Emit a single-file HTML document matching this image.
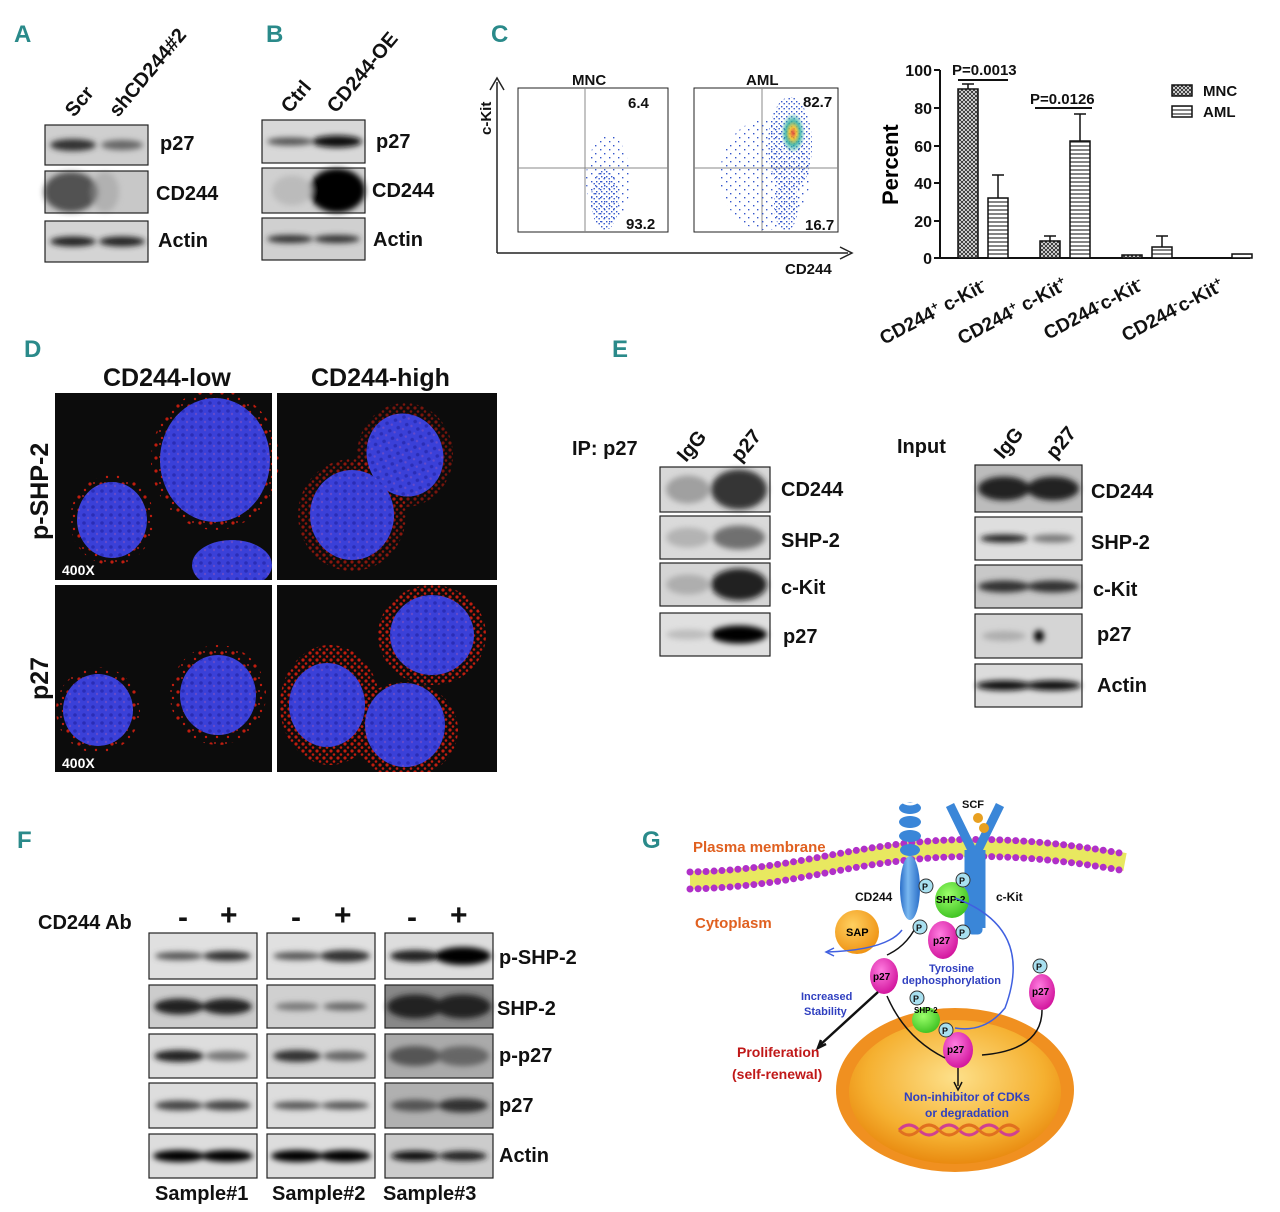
<!DOCTYPE html>
<html><head><meta charset="utf-8"><style>
body{margin:0;background:#fff}
svg{display:block}
text{font-family:"Liberation Sans",sans-serif;font-weight:bold}
.bo{fill:none;stroke:#222;stroke-width:1.2}
</style></head><body>
<svg width="1280" height="1212" viewBox="0 0 1280 1212" xmlns="http://www.w3.org/2000/svg">
<defs>
<filter id="b3" x="-50%" y="-50%" width="200%" height="200%"><feGaussianBlur stdDeviation="3"/></filter>
<clipPath id="ctop"><rect x="55" y="393" width="217" height="187"/><rect x="277" y="393" width="220" height="187"/></clipPath>
<clipPath id="cbot"><rect x="55" y="585" width="217" height="187"/><rect x="277" y="585" width="220" height="187"/></clipPath>
<radialGradient id="nuc" cx="50%" cy="40%" r="60%"><stop offset="0" stop-color="#fde08a"/><stop offset="0.7" stop-color="#f5b030"/><stop offset="1" stop-color="#e98a10"/></radialGradient>
<radialGradient id="mag" cx="40%" cy="35%" r="70%"><stop offset="0" stop-color="#ff7de0"/><stop offset="1" stop-color="#d0109a"/></radialGradient>
<radialGradient id="grn" cx="40%" cy="35%" r="70%"><stop offset="0" stop-color="#9bff6a"/><stop offset="1" stop-color="#3cc020"/></radialGradient>
<radialGradient id="sap" cx="40%" cy="35%" r="70%"><stop offset="0" stop-color="#ffd060"/><stop offset="1" stop-color="#ee9010"/></radialGradient>
<linearGradient id="blu" x1="0" x2="1"><stop offset="0" stop-color="#2a6ec8"/><stop offset="0.4" stop-color="#7ab8f0"/><stop offset="1" stop-color="#2a6ec8"/></linearGradient>
<radialGradient id="hot" cx="50%" cy="50%" r="50%"><stop offset="0" stop-color="#e03020"/><stop offset="0.3" stop-color="#f0c020"/><stop offset="0.6" stop-color="#30b0a0"/><stop offset="1" stop-color="#30b0a0" stop-opacity="0"/></radialGradient>
<pattern id="hatch" width="4" height="4" patternUnits="userSpaceOnUse"><rect width="4" height="4" fill="#fff"/><path d="M0 4L4 0M0 0L4 4" stroke="#333" stroke-width="1"/></pattern>
<pattern id="hz" width="4" height="4" patternUnits="userSpaceOnUse"><rect width="4" height="4" fill="#fff"/><path d="M0 2H4" stroke="#333" stroke-width="1.2"/></pattern>
<pattern id="fd" width="5" height="5" patternUnits="userSpaceOnUse"><rect x="1" y="1" width="1.4" height="1.4" fill="#3355cc"/><rect x="3.5" y="3" width="1.4" height="1.4" fill="#3355cc"/></pattern>
<pattern id="fds" width="9" height="8" patternUnits="userSpaceOnUse"><rect x="1" y="1" width="1.4" height="1.4" fill="#3355cc"/><rect x="6" y="5" width="1.4" height="1.4" fill="#3355cc"/></pattern>
<pattern id="rd" width="11" height="13" patternUnits="userSpaceOnUse"><circle cx="2" cy="3" r="1.6" fill="#e02010"/><circle cx="8" cy="9" r="1.2" fill="#e02010"/><circle cx="6" cy="2" r="0.9" fill="#ff3020"/></pattern>
<pattern id="rdd" width="7" height="7" patternUnits="userSpaceOnUse"><circle cx="2" cy="2" r="1.6" fill="#e02010"/><circle cx="5" cy="5.5" r="1.3" fill="#e02010"/></pattern>
<pattern id="nt" width="9" height="8" patternUnits="userSpaceOnUse"><rect width="9" height="8" fill="#3a40d8"/><circle cx="3" cy="3" r="1.8" fill="#2020a0" fill-opacity="0.6"/><circle cx="7" cy="6" r="1.2" fill="#8050c0" fill-opacity="0.6"/></pattern>
</defs>
<g fill="#2a8a8a" font-size="24">
<text x="14" y="42">A</text><text x="266" y="42">B</text><text x="491" y="42">C</text>
<text x="24" y="357">D</text><text x="612" y="357">E</text><text x="17" y="848">F</text><text x="642" y="848">G</text>
</g>
<!-- A blots -->
<rect x="45" y="125" width="103" height="40" fill="#cfcfcf"/>
<rect x="45" y="171" width="103" height="42" fill="#c8c8c8"/>
<rect x="45" y="221" width="103" height="41" fill="#d4d4d4"/>
<g filter="url(#b3)">
<ellipse cx="73" cy="145" rx="23" ry="6" fill="#333"/><ellipse cx="122" cy="145" rx="21" ry="5" fill="#666"/>
<ellipse cx="71" cy="192" rx="27" ry="20" fill="#333" fill-opacity="0.8"/><ellipse cx="105" cy="192" rx="14" ry="20" fill="#999" fill-opacity="0.5"/>
<ellipse cx="73" cy="241.5" rx="23" ry="5" fill="#222"/><ellipse cx="122" cy="241.5" rx="23" ry="5" fill="#222"/>
</g>
<rect class="bo" x="45" y="125" width="103" height="40"/><rect class="bo" x="45" y="171" width="103" height="42"/><rect class="bo" x="45" y="221" width="103" height="41"/>
<!-- B blots -->
<rect x="262" y="120" width="103" height="43" fill="#d8d8d8"/>
<rect x="262" y="168" width="103" height="45" fill="#d0d0d0"/>
<rect x="262" y="218" width="103" height="42" fill="#d0d0d0"/>
<g filter="url(#b3)">
<ellipse cx="290" cy="141.5" rx="23" ry="4" fill="#555"/><ellipse cx="337" cy="141.5" rx="25" ry="6" fill="#111"/>
<ellipse cx="337" cy="190.5" rx="28" ry="22" fill="#000"/><ellipse cx="292" cy="190.5" rx="20" ry="15" fill="#bbb"/>
<ellipse cx="290" cy="239" rx="23" ry="4" fill="#333"/><ellipse cx="337" cy="239" rx="23" ry="4" fill="#333"/>
</g>
<rect class="bo" x="262" y="120" width="103" height="43"/><rect class="bo" x="262" y="168" width="103" height="45"/><rect class="bo" x="262" y="218" width="103" height="42"/>
<g font-size="20" fill="#111">
<text transform="translate(74,118) rotate(-50)">Scr</text>
<text transform="translate(118,118) rotate(-50)">shCD244#2</text>
<text x="160" y="150">p27</text><text x="156" y="200">CD244</text><text x="158" y="247">Actin</text>
<text transform="translate(290,114) rotate(-50)">Ctrl</text>
<text transform="translate(336,114) rotate(-50)">CD244-OE</text>
<text x="376" y="148">p27</text><text x="372" y="197">CD244</text><text x="373" y="246">Actin</text>
</g>
<!-- C flow -->
<g stroke="#222" stroke-width="1.5" fill="none">
<path d="M497 253V82M490 90L497 78L504 90"/><path d="M497 253H848M840 247L852 253L840 259"/>
<rect x="518" y="88" width="150" height="144" stroke-width="1"/>
<rect x="694" y="88" width="144" height="144" stroke-width="1"/>
<path d="M585 88V232M518 168H668M762 88V232M694 168H838" stroke="#888" stroke-width="1"/>
</g>
<ellipse cx="605" cy="200" rx="14" ry="30" fill="url(#fd)"/>
<ellipse cx="608" cy="180" rx="22" ry="45" fill="url(#fds)"/>
<ellipse cx="790" cy="145" rx="22" ry="48" fill="url(#fd)"/>
<ellipse cx="786" cy="205" rx="12" ry="26" fill="url(#fd)"/>
<ellipse cx="765" cy="175" rx="45" ry="55" fill="url(#fds)"/>
<ellipse cx="793" cy="133" rx="12" ry="20" fill="url(#hot)" opacity="0.85"/>
<g font-size="15" fill="#111">
<text x="572" y="85">MNC</text><text x="746" y="85">AML</text>
<text x="628" y="108">6.4</text><text x="626" y="229">93.2</text>
<text x="803" y="107">82.7</text><text x="805" y="230">16.7</text>
<text x="785" y="274">CD244</text>
<text transform="translate(491,135) rotate(-90)">c-Kit</text>
</g>
<!-- bar chart -->
<g stroke="#111" stroke-width="2" fill="none">
<path d="M940 70V258H1250"/>
<path d="M934 70H940M934 108H940M934 146H940M934 183H940M934 221H940M934 258H940"/>
</g>
<g font-size="16" fill="#111" text-anchor="end">
<text x="932" y="76">100</text><text x="932" y="114">80</text><text x="932" y="152">60</text><text x="932" y="189">40</text><text x="932" y="227">20</text><text x="932" y="264">0</text>
</g>
<text transform="translate(898,205) rotate(-90)" font-size="22">Percent</text>
<g stroke="#111" stroke-width="1.5">
<rect x="958" y="89" width="20" height="169" fill="url(#hatch)"/>
<rect x="988" y="198" width="20" height="60" fill="url(#hz)"/>
<rect x="1040" y="241" width="20" height="17" fill="url(#hatch)"/>
<rect x="1070" y="141" width="20" height="117" fill="url(#hz)"/>
<rect x="1122" y="255" width="20" height="3" fill="url(#hatch)"/>
<rect x="1152" y="247" width="20" height="11" fill="url(#hz)"/>
<rect x="1232" y="254" width="20" height="4" fill="url(#hz)"/>
<path d="M968 89V84M962 84H974M998 198V175M992 175H1004M1050 241V236M1044 236H1056M1080 141V114M1074 114H1086M1162 247V236M1156 236H1168" fill="none"/>
<path d="M958 80H1008M1035 108H1092" stroke-width="2"/>
<rect x="1172" y="85" width="20" height="11" fill="url(#hatch)"/>
<rect x="1172" y="106" width="20" height="11" fill="url(#hz)"/>
</g>
<g font-size="15" fill="#111"><text x="952" y="75">P=0.0013</text><text x="1030" y="104">P=0.0126</text><text x="1203" y="96">MNC</text><text x="1203" y="117">AML</text></g>
<g font-size="19" fill="#111">
<text transform="translate(884,345) rotate(-28)">CD244<tspan dy="-7" font-size="12">+</tspan><tspan dy="7"> c-Kit</tspan><tspan dy="-7" font-size="12">-</tspan></text>
<text transform="translate(962,345) rotate(-28)">CD244<tspan dy="-7" font-size="12">+</tspan><tspan dy="7"> c-Kit</tspan><tspan dy="-7" font-size="12">+</tspan></text>
<text transform="translate(1048,340) rotate(-28)">CD244<tspan dy="-7" font-size="12">-</tspan><tspan dy="7">c-Kit</tspan><tspan dy="-7" font-size="12">-</tspan></text>
<text transform="translate(1126,342) rotate(-28)">CD244<tspan dy="-7" font-size="12">-</tspan><tspan dy="7">c-Kit</tspan><tspan dy="-7" font-size="12">+</tspan></text>
</g>
<!-- D -->
<g font-size="25" fill="#111"><text x="103" y="386">CD244-low</text><text x="311" y="386">CD244-high</text>
<text transform="translate(48,540) rotate(-90)">p-SHP-2</text><text transform="translate(48,700) rotate(-90)">p27</text></g>
<rect x="55" y="393" width="217" height="187" fill="#0c0c0c"/><rect x="277" y="393" width="220" height="187" fill="#0c0c0c"/>
<rect x="55" y="585" width="217" height="187" fill="#0c0c0c"/><rect x="277" y="585" width="220" height="187" fill="#0c0c0c"/>
<g clip-path="url(#ctop)">
<g opacity="0.85">
<ellipse cx="112" cy="520" rx="42" ry="45" fill="url(#rd)"/>
<ellipse cx="215" cy="460" rx="64" ry="70" fill="url(#rd)"/>
<ellipse cx="405" cy="455" rx="48" ry="52" fill="url(#rdd)" opacity="0.6"/>
<ellipse cx="352" cy="515" rx="54" ry="56" fill="url(#rdd)" opacity="0.7"/>
</g>
<g fill="url(#nt)">
<ellipse cx="112" cy="520" rx="35" ry="38"/>
<ellipse cx="215" cy="460" rx="55" ry="62"/>
<ellipse cx="232" cy="565" rx="40" ry="25"/>
<ellipse cx="405" cy="455" rx="38" ry="42" transform="rotate(-20 405 455)"/>
<ellipse cx="352" cy="515" rx="42" ry="45"/>
</g>
</g>
<g clip-path="url(#cbot)">
<g opacity="0.85">
<ellipse cx="98" cy="710" rx="42" ry="43" fill="url(#rd)"/>
<ellipse cx="218" cy="695" rx="48" ry="50" fill="url(#rd)"/>
<ellipse cx="432" cy="635" rx="54" ry="50" fill="url(#rdd)"/>
<ellipse cx="330" cy="705" rx="50" ry="60" fill="url(#rdd)"/>
<ellipse cx="405" cy="730" rx="53" ry="48" fill="url(#rdd)"/>
</g>
<g fill="url(#nt)">
<ellipse cx="98" cy="710" rx="35" ry="36"/>
<ellipse cx="218" cy="695" rx="38" ry="40"/>
<ellipse cx="432" cy="635" rx="42" ry="40"/>
<ellipse cx="327" cy="705" rx="38" ry="42"/>
<ellipse cx="405" cy="725" rx="40" ry="42"/>
</g>
</g>
<g font-size="14" fill="#fff"><text x="62" y="575">400X</text><text x="62" y="768">400X</text></g>
<!-- E blots -->
<g>
<rect x="660" y="467" width="110" height="45" fill="#d8d8d8"/><rect x="660" y="516" width="110" height="43" fill="#dadada"/>
<rect x="660" y="563" width="110" height="43" fill="#d5d5d5"/><rect x="660" y="613" width="110" height="43" fill="#e0e0e0"/>
<rect x="975" y="465" width="107" height="47" fill="#bcbcbc"/><rect x="975" y="517" width="107" height="43" fill="#dedede"/>
<rect x="975" y="565" width="107" height="43" fill="#c8c8c8"/><rect x="975" y="614" width="107" height="44" fill="#d5d5d5"/>
<rect x="975" y="664" width="107" height="43" fill="#dcdcdc"/>
<g filter="url(#b3)">
<ellipse cx="688" cy="489.5" rx="22" ry="14" fill="#888" fill-opacity="0.7"/><ellipse cx="739" cy="489.5" rx="28" ry="20" fill="#222" fill-opacity="0.9"/>
<ellipse cx="688" cy="537.5" rx="22" ry="10" fill="#999" fill-opacity="0.6"/><ellipse cx="739" cy="537.5" rx="26" ry="12" fill="#555" fill-opacity="0.8"/>
<ellipse cx="688" cy="584.5" rx="22" ry="10" fill="#888" fill-opacity="0.5"/><ellipse cx="739" cy="584.5" rx="28" ry="16" fill="#111" fill-opacity="0.9"/>
<ellipse cx="688" cy="634.5" rx="22" ry="5" fill="#999" fill-opacity="0.5"/><ellipse cx="739" cy="634.5" rx="28" ry="9" fill="#000"/>
<ellipse cx="1004" cy="488.5" rx="26" ry="12" fill="#222"/><ellipse cx="1053" cy="488.5" rx="26" ry="12" fill="#222"/>
<ellipse cx="1004" cy="538.5" rx="24" ry="4" fill="#222"/><ellipse cx="1053" cy="538.5" rx="21" ry="4" fill="#777"/>
<ellipse cx="1004" cy="586.5" rx="26" ry="6" fill="#333"/><ellipse cx="1053" cy="586.5" rx="26" ry="6" fill="#333"/>
<ellipse cx="1004" cy="636" rx="22" ry="5" fill="#888" fill-opacity="0.5"/><ellipse cx="1039" cy="636" rx="5" ry="6" fill="#000"/>
<ellipse cx="1004" cy="685.5" rx="28" ry="5" fill="#111"/><ellipse cx="1053" cy="685.5" rx="28" ry="5" fill="#111"/>
</g>
<rect class="bo" x="660" y="467" width="110" height="45"/><rect class="bo" x="660" y="516" width="110" height="43"/>
<rect class="bo" x="660" y="563" width="110" height="43"/><rect class="bo" x="660" y="613" width="110" height="43"/>
<rect class="bo" x="975" y="465" width="107" height="47"/><rect class="bo" x="975" y="517" width="107" height="43"/>
<rect class="bo" x="975" y="565" width="107" height="43"/><rect class="bo" x="975" y="614" width="107" height="44"/>
<rect class="bo" x="975" y="664" width="107" height="43"/>
</g>
<g font-size="20" fill="#111">
<text x="572" y="455">IP: p27</text>
<text transform="translate(686,463) rotate(-50)">IgG</text><text transform="translate(740,463) rotate(-50)">p27</text>
<text x="781" y="496">CD244</text><text x="781" y="547">SHP-2</text><text x="781" y="594">c-Kit</text><text x="783" y="643">p27</text>
<text x="897" y="453">Input</text>
<text transform="translate(1003,460) rotate(-50)">IgG</text><text transform="translate(1055,460) rotate(-50)">p27</text>
<text x="1091" y="498">CD244</text><text x="1091" y="549">SHP-2</text><text x="1093" y="596">c-Kit</text><text x="1097" y="641">p27</text><text x="1097" y="692">Actin</text>
</g>
<!-- F blots -->
<g>
<rect x="149" y="933" width="108" height="46" fill="#e0e0e0"/><rect x="149" y="985" width="108" height="43" fill="#ccc"/>
<rect x="149" y="1034" width="108" height="44" fill="#ddd"/><rect x="149" y="1083" width="108" height="45" fill="#ddd"/>
<rect x="149" y="1134" width="108" height="44" fill="#ddd"/>
<rect x="267" y="933" width="108" height="46" fill="#e0e0e0"/><rect x="267" y="985" width="108" height="43" fill="#d0d0d0"/>
<rect x="267" y="1034" width="108" height="44" fill="#d5d5d5"/><rect x="267" y="1083" width="108" height="45" fill="#ddd"/>
<rect x="267" y="1134" width="108" height="44" fill="#ddd"/>
<rect x="385" y="933" width="108" height="46" fill="#ddd"/><rect x="385" y="985" width="108" height="43" fill="#888"/>
<rect x="385" y="1034" width="108" height="44" fill="#aaa"/><rect x="385" y="1083" width="108" height="45" fill="#b0b0b0"/>
<rect x="385" y="1134" width="108" height="44" fill="#ccc"/>
<g filter="url(#b3)">
<ellipse cx="179" cy="956" rx="24" ry="4" fill="#555"/><ellipse cx="227" cy="956" rx="24" ry="5" fill="#333"/>
<ellipse cx="179" cy="1006.5" rx="25" ry="8" fill="#222"/><ellipse cx="227" cy="1006.5" rx="25" ry="8" fill="#222"/>
<ellipse cx="179" cy="1056" rx="25" ry="6" fill="#222"/><ellipse cx="227" cy="1056" rx="22" ry="5" fill="#777"/>
<ellipse cx="179" cy="1105.5" rx="24" ry="5" fill="#444"/><ellipse cx="227" cy="1105.5" rx="24" ry="5" fill="#444"/>
<ellipse cx="179" cy="1156" rx="26" ry="6" fill="#000"/><ellipse cx="227" cy="1156" rx="26" ry="6" fill="#000"/>
<ellipse cx="297" cy="956" rx="24" ry="4" fill="#555"/><ellipse cx="345" cy="956" rx="25" ry="6" fill="#333"/>
<ellipse cx="297" cy="1006.5" rx="22" ry="4" fill="#777"/><ellipse cx="345" cy="1006.5" rx="22" ry="4" fill="#666"/>
<ellipse cx="297" cy="1056" rx="24" ry="6" fill="#333"/><ellipse cx="345" cy="1056" rx="22" ry="5" fill="#666"/>
<ellipse cx="297" cy="1105.5" rx="24" ry="4" fill="#555"/><ellipse cx="345" cy="1105.5" rx="24" ry="4" fill="#555"/>
<ellipse cx="297" cy="1156" rx="26" ry="6" fill="#000"/><ellipse cx="345" cy="1156" rx="26" ry="6" fill="#000"/>
<ellipse cx="415" cy="956" rx="25" ry="6" fill="#222"/><ellipse cx="463" cy="956" rx="28" ry="9" fill="#000"/>
<ellipse cx="415" cy="1006.5" rx="28" ry="12" fill="#222"/><ellipse cx="463" cy="1006.5" rx="28" ry="12" fill="#222"/>
<ellipse cx="415" cy="1056" rx="26" ry="10" fill="#555"/><ellipse cx="463" cy="1056" rx="26" ry="10" fill="#666"/>
<ellipse cx="415" cy="1105.5" rx="24" ry="6" fill="#555"/><ellipse cx="463" cy="1105.5" rx="25" ry="7" fill="#333"/>
<ellipse cx="415" cy="1156" rx="24" ry="5" fill="#111"/><ellipse cx="463" cy="1156" rx="24" ry="5" fill="#222"/>
</g>
<rect class="bo" x="149" y="933" width="108" height="46"/><rect class="bo" x="149" y="985" width="108" height="43"/><rect class="bo" x="149" y="1034" width="108" height="44"/><rect class="bo" x="149" y="1083" width="108" height="45"/><rect class="bo" x="149" y="1134" width="108" height="44"/>
<rect class="bo" x="267" y="933" width="108" height="46"/><rect class="bo" x="267" y="985" width="108" height="43"/><rect class="bo" x="267" y="1034" width="108" height="44"/><rect class="bo" x="267" y="1083" width="108" height="45"/><rect class="bo" x="267" y="1134" width="108" height="44"/>
<rect class="bo" x="385" y="933" width="108" height="46"/><rect class="bo" x="385" y="985" width="108" height="43"/><rect class="bo" x="385" y="1034" width="108" height="44"/><rect class="bo" x="385" y="1083" width="108" height="45"/><rect class="bo" x="385" y="1134" width="108" height="44"/>
</g>
<g font-size="20" fill="#111">
<text x="38" y="929">CD244 Ab</text>
<g font-size="30"><text x="178" y="927">-</text><text x="220" y="925">+</text><text x="291" y="927">-</text><text x="334" y="925">+</text><text x="407" y="927">-</text><text x="450" y="925">+</text></g>
<text x="499" y="964">p-SHP-2</text><text x="497" y="1015">SHP-2</text><text x="499" y="1062">p-p27</text><text x="499" y="1112">p27</text><text x="499" y="1162">Actin</text>
<text x="155" y="1200">Sample#1</text><text x="272" y="1200">Sample#2</text><text x="383" y="1200">Sample#3</text>
</g>
<!-- G -->
<g>
<path d="M690 880C780 878 830 860 900 852C980 842 1060 850 1125 862" stroke="#e8e860" stroke-width="18" fill="none"/>
<path d="M690 872C780 870 830 852 900 844C980 834 1060 842 1125 854" stroke="#b030c8" stroke-width="7" stroke-linecap="round" stroke-dasharray="0 8" fill="none"/>
<path d="M690 889C780 887 830 869 900 861C980 851 1060 859 1125 871" stroke="#b030c8" stroke-width="7" stroke-linecap="round" stroke-dasharray="0 8" fill="none"/>
<text x="693" y="852" font-size="15" fill="#e06020">Plasma membrane</text>
<text x="695" y="928" font-size="15" fill="#e06020">Cytoplasm</text>
<ellipse cx="955" cy="1090" rx="119" ry="82" fill="#f09020"/>
<ellipse cx="955" cy="1092" rx="106" ry="72" fill="url(#nuc)"/>
<path d="M899 1130q10-10 20 0t20 0t20 0t20 0t20 0t20 0" stroke="#d04090" stroke-width="3" fill="none"/>
<path d="M899 1130q10 10 20 0t20 0t20 0t20 0t20 0t20 0" stroke="#e07020" stroke-width="3" fill="none"/>
<ellipse cx="910" cy="808" rx="11" ry="6" fill="#3a86d8"/><ellipse cx="910" cy="822" rx="11" ry="6" fill="#3a86d8"/><ellipse cx="910" cy="836" rx="11" ry="6" fill="#3a86d8"/><ellipse cx="910" cy="850" rx="10" ry="6" fill="#3a86d8"/>
<ellipse cx="910" cy="888" rx="10" ry="32" fill="url(#blu)"/>
<path d="M900 800q10 8 20 0" stroke="#fff" stroke-width="3" fill="none"/>
<path d="M950 805L972 850V930H978V850L1000 805" stroke="#3a86d8" stroke-width="9" fill="none" stroke-linejoin="round"/>
<path d="M968 850V928M982 850V928" stroke="#3a86d8" stroke-width="7"/>
<circle cx="978" cy="818" r="5" fill="#e8a020"/><circle cx="984" cy="828" r="5" fill="#e8a020"/>
<text x="962" y="808" font-size="11" fill="#111">SCF</text>
<text x="855" y="901" font-size="12" fill="#111">CD244</text><text x="996" y="901" font-size="12" fill="#111">c-Kit</text>
<ellipse cx="952" cy="900" rx="17" ry="18" fill="url(#grn)"/><text x="936" y="903" font-size="10">SHP-2</text>
<ellipse cx="943" cy="940" rx="15" ry="19" fill="url(#mag)"/><text x="933" y="944" font-size="10">p27</text>
<circle cx="857" cy="932" r="22" fill="url(#sap)"/><text x="846" y="936" font-size="11">SAP</text>
<path d="M902 930q-15 20-75 22M834 948l-8 4l8 4" stroke="#4060e0" stroke-width="1.5" fill="none"/>
<path d="M919 920q-10 25-32 35" stroke="#111" stroke-width="1.5" fill="none"/>
<path d="M955 898q80 30 50 110q-20 25-50 20" stroke="#4060e0" stroke-width="1.5" fill="none"/>
<ellipse cx="884" cy="976" rx="14" ry="18" fill="url(#mag)"/><text x="873" y="980" font-size="10">p27</text>
<ellipse cx="1042" cy="992" rx="13" ry="18" fill="url(#mag)"/><text x="1032" y="995" font-size="10">p27</text>
<ellipse cx="926" cy="1020" rx="14" ry="13" fill="url(#grn)"/><text x="914" y="1013" font-size="8">SHP-2</text>
<ellipse cx="958" cy="1050" rx="15" ry="18" fill="url(#mag)"/><text x="947" y="1053" font-size="10">p27</text>
<g fill="#a8e0f0" stroke="#333"><circle cx="926" cy="886" r="7"/><circle cx="963" cy="880" r="7"/><circle cx="920" cy="927" r="7"/><circle cx="963" cy="932" r="7"/><circle cx="1040" cy="966" r="7"/><circle cx="917" cy="998" r="7"/><circle cx="946" cy="1030" r="7"/></g>
<g font-size="9" fill="#111"><text x="922" y="890">P</text><text x="959" y="884">P</text><text x="916" y="931">P</text><text x="959" y="936">P</text><text x="1036" y="970">P</text><text x="913" y="1002">P</text><text x="942" y="1034">P</text></g>
<path d="M878 992L820 1045M826 1044l-8 4l3-8" stroke="#111" stroke-width="2.5" fill="none"/>
<path d="M945 1058q-40-20-58-62M1042 1010q0 40-60 45M958 1068V1086M954 1082l4 8l4-8" stroke="#111" stroke-width="1.5" fill="none"/>
<g font-size="11" fill="#3040c0"><text x="929" y="972">Tyrosine</text><text x="902" y="984">dephosphorylation</text><text x="801" y="1000">Increased</text><text x="804" y="1015">Stability</text></g>
<g font-size="12" fill="#3040c0"><text x="904" y="1101">Non-inhibitor of CDKs</text><text x="925" y="1117">or degradation</text></g>
<g font-size="14" fill="#c01818"><text x="737" y="1057">Proliferation</text><text x="732" y="1079">(self-renewal)</text></g>
</g>
</svg>
</body></html>
